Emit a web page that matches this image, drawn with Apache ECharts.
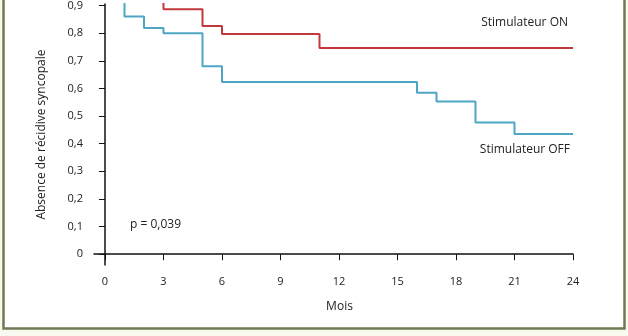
<!DOCTYPE html>
<html>
<head>
<meta charset="utf-8">
<script src="https://cdn.jsdelivr.net/npm/echarts@6/dist/echarts.min.js"></script>
<style>
html,body{margin:0;padding:0;background:#f8faef;}
#c{width:628px;height:336px;}
</style>
</head>
<body>
<div id="c"></div>
<script>
const xTicks = [0, 3, 6, 9, 12, 15, 18, 21, 24];
const yTicks = [0, 0.1, 0.2, 0.3, 0.4, 0.5, 0.6, 0.7, 0.8, 0.9];
const onMonths = [0, 3, 5, 6, 11, 24];
const onValues = [1.0, 0.886, 0.826, 0.797, 0.746, 0.746];
const offMonths = [0, 1, 2, 3, 5, 6, 16, 17, 19, 21, 24];
const offValues = [1.0, 0.86, 0.819, 0.80, 0.68, 0.623, 0.584, 0.553, 0.477, 0.435, 0.435];
const seriesNames = ['Stimulateur ON', 'Stimulateur OFF'];
const pText = 'p = 0,039';

const font = "'Open Sans', sans-serif";
const chart = echarts.init(document.getElementById('c'), null, {renderer: 'canvas'});
chart.setOption({
  animation: false,
  backgroundColor: 'transparent',
  grid: {left: 94, right: 55, top: 0, bottom: 71, containLabel: false},
  xAxis: {
    type: 'value', min: -0.564, max: 24,
    name: 'Mois', nameLocation: 'middle', nameGap: 36,
    nameTextStyle: {fontFamily: font, fontSize: 12, color: '#222', padding: [0, 0, 0, 12]},
    axisLine: {show: true, lineStyle: {color: '#111', width: 1.5}},
    axisTick: {show: true, length: 6, customValues: xTicks, lineStyle: {color: '#111', width: 1}},
    axisLabel: {customValues: xTicks, margin: 11, fontFamily: font, fontSize: 11, color: '#222'},
    splitLine: {show: false}
  },
  yAxis: {
    type: 'value', min: -0.039, max: 0.905,
    name: 'Absence de récidive syncopale', nameLocation: 'middle', nameGap: 46,
    nameTextStyle: {fontFamily: font, fontSize: 12, color: '#222', padding: [0, 0, 0, 0]},
    axisLine: {show: true, lineStyle: {color: '#111', width: 1.5}},
    axisTick: {show: true, length: 6, customValues: yTicks, lineStyle: {color: '#111', width: 1}},
    axisLabel: {customValues: yTicks, margin: 11, fontFamily: font, fontSize: 11, color: '#222',
      formatter: v => String(Math.round(v * 10) / 10).replace('.', ',')},
    splitLine: {show: false}
  },
  series: [
    {name: seriesNames[0], type: 'line', step: 'end', symbol: 'none', clip: true,
     data: onMonths.map((m, i) => [m, onValues[i]]),
     lineStyle: {color: '#c2393d', width: 2}},
    {name: seriesNames[1], type: 'line', step: 'end', symbol: 'none', clip: true,
     data: offMonths.map((m, i) => [m, offValues[i]]),
     lineStyle: {color: '#4da6c3', width: 2}}
  ],
  graphic: [
    {type: 'rect', shape: {x: 3.5, y: -10, width: 621, height: 338.5},
     style: {fill: '#ffffff', stroke: '#6f7b52', lineWidth: 2.5}, z: -10},
    {type: 'text', right: 60, top: 17, style: {text: seriesNames[0], fontFamily: font, fontSize: 12, fill: '#222'}},
    {type: 'text', right: 58, top: 144, style: {text: seriesNames[1], fontFamily: font, fontSize: 12, fill: '#222'}},
    {type: 'text', left: 130, top: 219, style: {text: pText, fontFamily: font, fontSize: 12, fill: '#222'}}
  ]
});
</script>
</body>
</html>
